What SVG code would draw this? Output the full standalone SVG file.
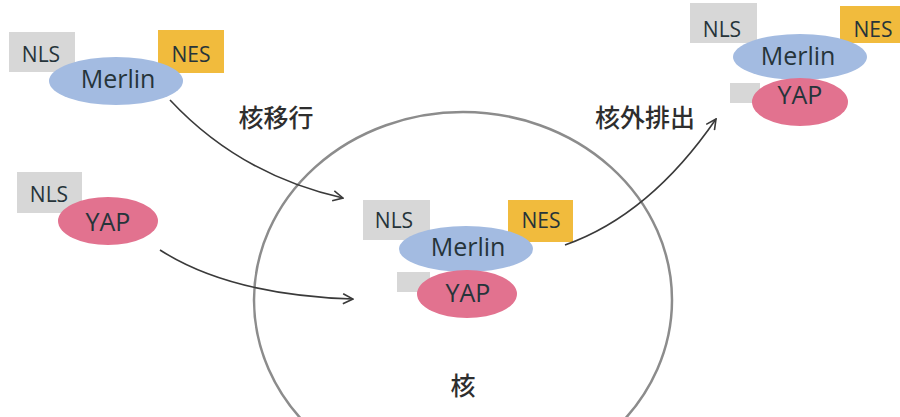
<svg xmlns="http://www.w3.org/2000/svg" width="900" height="417" viewBox="0 0 900 417">
<defs>
<style>
.nls{fill:#d7d7d7}
.nes{fill:#f1bb3d}
.mer{fill:#a3bbe1}
.yap{fill:#e2728f}
.t{font-family:"Open Sans","Liberation Sans",sans-serif;fill:#26343a;text-anchor:middle}
.s{font-size:21px}
.m{font-size:25px}
.j{font-family:"Noto Sans CJK JP","Noto Sans CJK SC",sans-serif;font-size:25px;font-weight:500;fill:#2e2e2e;text-anchor:middle}
.c{fill:none;stroke:#3a3a3a;stroke-width:1.6}
</style>
<marker id="ah" viewBox="0 0 12 12" refX="11" refY="6" markerWidth="12" markerHeight="12" markerUnits="userSpaceOnUse" orient="auto">
<path d="M1,1 L11,6 L1,11" fill="none" stroke="#3a3a3a" stroke-width="1.6"/>
</marker>
</defs>
<rect width="900" height="417" fill="#ffffff"/>
<g id="nucleus">
<ellipse cx="463" cy="300" rx="209" ry="188" fill="none" stroke="#8c8c8c" stroke-width="2.5"/>
<text class="j" x="463" y="395">核</text>
</g>
<g id="merlin-cyto">
<rect class="nls" x="9" y="32" width="66" height="40"/>
<rect class="nes" x="158" y="30" width="66" height="43"/>
<ellipse class="mer" cx="116" cy="81" rx="67" ry="24"/>
<text class="t s" x="41" y="62">NLS</text>
<text class="t s" x="191" y="62">NES</text>
<text class="t m" x="118" y="88">Merlin</text>
</g>
<g id="yap-cyto">
<rect class="nls" x="17" y="172" width="65" height="41"/>
<ellipse class="yap" cx="108" cy="221" rx="50" ry="24"/>
<text class="t s" x="49" y="202">NLS</text>
<text class="t m" x="108" y="231">YAP</text>
</g>
<g id="complex-nucleus">
<rect class="nls" x="363" y="200" width="67" height="40"/>
<rect class="nes" x="508" y="200" width="65" height="42"/>
<rect class="nls" x="397" y="272" width="33" height="20"/>
<ellipse class="mer" cx="466" cy="249" rx="67" ry="23"/>
<ellipse class="yap" cx="467" cy="294" rx="50" ry="24"/>
<text class="t s" x="394" y="228">NLS</text>
<text class="t s" x="541" y="228">NES</text>
<text class="t m" x="468" y="256">Merlin</text>
<text class="t m" x="468" y="302">YAP</text>
</g>
<g id="complex-exported">
<rect class="nls" x="690" y="3" width="67" height="40"/>
<rect class="nes" x="840" y="6" width="60" height="37"/>
<rect class="nls" x="730" y="83" width="30" height="20"/>
<ellipse class="mer" cx="800" cy="57" rx="67" ry="23"/>
<ellipse class="yap" cx="800" cy="102" rx="48" ry="24"/>
<text class="t s" x="722" y="37">NLS</text>
<text class="t s" x="873" y="37">NES</text>
<text class="t m" x="798" y="65">Merlin</text>
<text class="t m" x="800" y="104">YAP</text>
</g>
<g id="connectors">
<path class="c" d="M170,100 Q240,175 343,198" marker-end="url(#ah)"/>
<path class="c" d="M160,250 Q230,295 353,299" marker-end="url(#ah)"/>
<path class="c" d="M565,245 Q650,215 716,119" marker-end="url(#ah)"/>
<text class="j" x="276" y="127">核移行</text>
<text class="j" x="645" y="127">核外排出</text>
</g>
</svg>
